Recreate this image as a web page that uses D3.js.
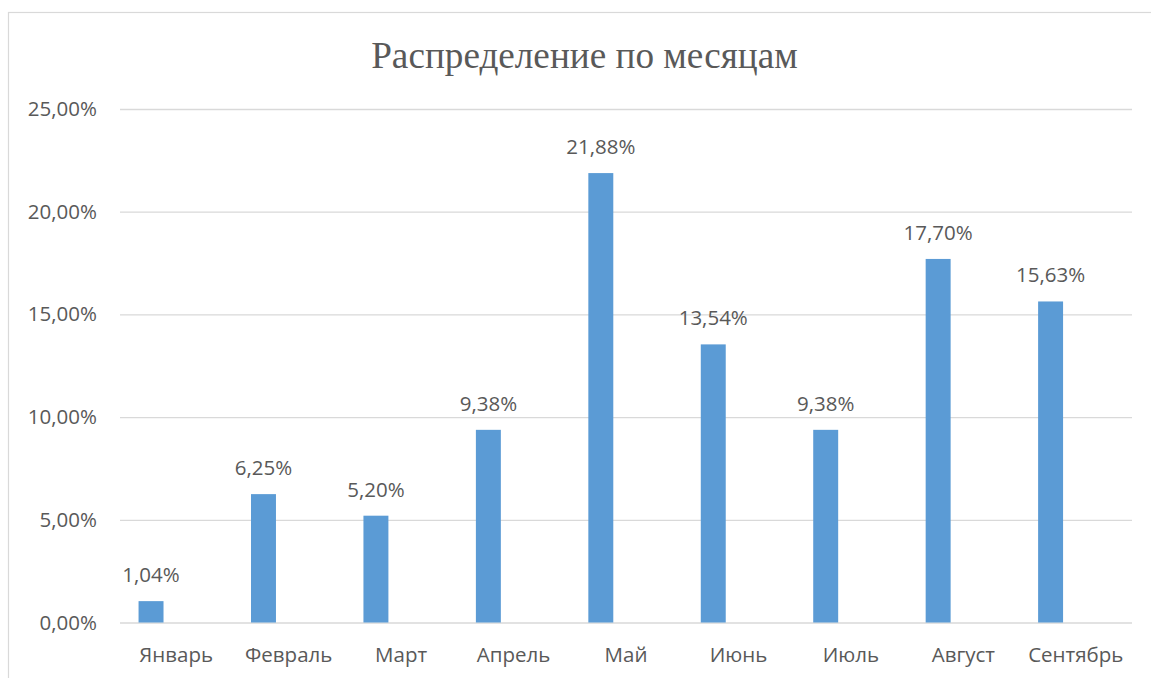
<!DOCTYPE html>
<html><head><meta charset="utf-8">
<script src="https://cdn.jsdelivr.net/npm/d3@7"></script>
<style>
html,body{margin:0;padding:0;background:#fff;}
svg{display:block;}
</style></head>
<body>
<svg id="c" width="1151" height="678"></svg>
<script>
const months = ["Январь","Февраль","Март","Апрель","Май","Июнь","Июль","Август","Сентябрь"];
const shares = [1.04, 6.25, 5.20, 9.38, 21.88, 13.54, 9.38, 17.70, 15.63];
const yTicks = [0, 5, 10, 15, 20, 25];
const title = "Распределение по месяцам";

const svg = d3.select("#c");
const W = 1151, H = 678;
const m = {left: 120, right: 1132, top: 109, bottom: 622.5};
const textColor = "#595959";
const sans = "'Open Sans', sans-serif";
const fs = 20.5;
const fmt = v => d3.format(".2f")(v).replace(".", ",") + "%";

svg.append("rect").attr("x", 8.5).attr("y", 12.5).attr("width", W + 10).attr("height", H + 10)
  .attr("fill", "#fff").attr("stroke", "#d9d9d9").attr("stroke-width", 1.2);

svg.append("text").attr("x", 584.5).attr("y", 67.5).attr("text-anchor", "middle")
  .attr("font-family", "'Liberation Serif', 'Times New Roman', serif").attr("font-size", 37.2)
  .attr("fill", textColor).text(title);

const x = d3.scaleBand().domain(months).range([m.left, m.right]).paddingInner(0).paddingOuter(0);
const y = d3.scaleLinear().domain([0, 25]).range([m.bottom, m.top]);

const yAxis = d3.axisLeft(y).tickValues(yTicks).tickFormat(fmt).tickSize(-(m.right - m.left)).tickPadding(23);
const gy = svg.append("g").attr("transform", `translate(${m.left},0)`).call(yAxis);
gy.select(".domain").remove();
gy.selectAll(".tick line").attr("stroke", "#d9d9d9").attr("stroke-width", 1.3);
gy.selectAll(".tick text").attr("fill", textColor).attr("font-family", sans).attr("font-size", fs);

const xAxis = d3.axisBottom(x).tickSize(0).tickPadding(0);
const gx = svg.append("g").attr("transform", `translate(0,${m.bottom})`).call(xAxis);
gx.select(".domain").remove();
gx.selectAll(".tick text").attr("fill", textColor).attr("font-family", sans).attr("font-size", fs)
  .attr("dy", null).attr("y", 39.2);

const bw = x.bandwidth();
const barW = bw * 0.222, barOff = bw * 0.165;
const data = months.map((mo, i) => ({mo, v: shares[i]}));

svg.append("g").selectAll("rect").data(data).join("rect")
  .attr("x", d => x(d.mo) + barOff).attr("width", barW)
  .attr("y", d => y(d.v)).attr("height", d => y(0) - y(d.v))
  .attr("fill", "#5B9BD5");

svg.append("g").selectAll("text").data(data).join("text")
  .attr("x", d => x(d.mo) + barOff + barW / 2).attr("y", d => y(d.v) - 19)
  .attr("text-anchor", "middle").attr("font-family", sans).attr("font-size", fs)
  .attr("fill", textColor).text(d => fmt(d.v));
</script>
</body></html>
